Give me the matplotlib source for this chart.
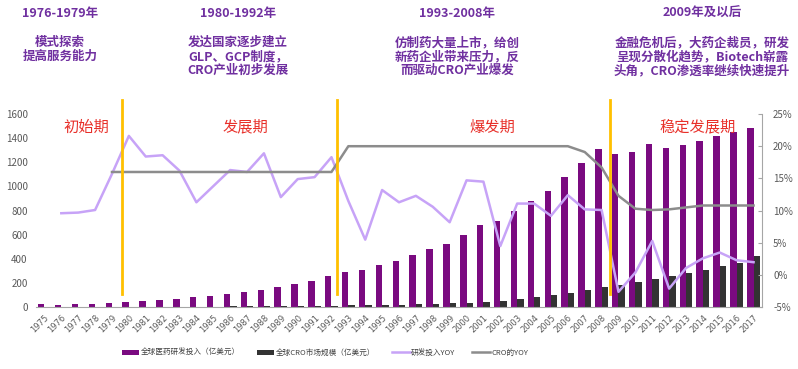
import matplotlib
matplotlib.use("Agg")
import matplotlib.pyplot as plt
import numpy as np
from matplotlib.patches import Patch
from matplotlib.lines import Line2D

plt.rcParams['font.family'] = ['Noto Sans CJK SC', 'DejaVu Sans']

years = [str(y) for y in range(1975, 2018)]
rd_invest = [25, 22, 27, 30, 38, 44, 52, 60, 72, 83, 91, 108, 127, 146, 166, 191, 221, 259,
             290, 309, 348, 387, 433, 483, 522, 602, 685, 713, 793, 884, 962, 1078, 1191, 1310,
             1271, 1285, 1351, 1318, 1343, 1376, 1420, 1453, 1484]
cro_market = [2, 2, 3, 3, 3, 4, 4, 5, 5, 6, 6, 7, 8, 8, 9, 10, 11, 13,
              15, 17, 20, 23, 26, 30, 34, 38, 45, 55, 68, 84, 99, 121, 143, 168,
              185, 207, 232, 259, 282, 312, 345, 370, 428]
rd_yoy = [np.nan, 9.6, 9.7, 10.1, 15.7, 21.6, 18.4, 18.6, 16.2, 11.3, 13.8, 16.3, 16.0, 18.9,
          12.1, 14.9, 15.2, 18.3, 11.5, 5.5, 13.2, 11.3, 12.3, 10.6, 8.2, 14.7, 14.5, 4.5,
          11.1, 11.1, 9.2, 12.4, 10.2, 10.1, -2.6, 0.4, 5.3, -2.1, 1.1, 2.6, 3.5, 2.3, 2.0]
cro_yoy = [np.nan, np.nan, np.nan, np.nan, 16.0, 16.0, 16.0, 16.0, 16.0, 16.0, 16.0, 16.0, 16.0,
           16.0, 16.0, 16.0, 16.0, 16.0, 20.0, 20.0, 20.0, 20.0, 20.0, 20.0, 20.0, 20.0, 20.0,
           20.0, 20.0, 20.0, 20.0, 20.0, 19.1, 16.7, 12.3, 10.3, 10.1, 10.2, 10.5, 10.8, 10.8,
           10.8, 10.8]

era_titles = ["1976-1979年", "1980-1992年", "1993-2008年", "2009年及以后"]
era_texts = ["模式探索\n提高服务能力",
             "发达国家逐步建立\nGLP、GCP制度，\nCRO产业初步发展",
             "仿制药大量上市，给创\n新药企业带来压力，反\n而驱动CRO产业爆发",
             "金融危机后，大药企裁员，研发\n呈现分散化趋势，Biotech崭露\n头角，CRO渗透率继续快速提升"]
phase_labels = ["初始期", "发展期", "爆发期", "稳定发展期"]
legend_labels = ["全球医药研发投入（亿美元）", "全球CRO市场规模（亿美元）", "研发投入YOY", "CRO的YOY"]

C_PURPLE = '#7a0a80'
C_BLACK = '#333333'
C_LINE = '#c7a3f7'
C_GRAY = '#8c8c8c'
C_YELLOW = '#ffc000'
C_TEXT = '#7030a0'
C_RED = '#e8302a'
C_TICK = '#595959'

W, H = 798, 369
fig = plt.figure(figsize=(W / 100, H / 100), dpi=100)
ax = fig.add_axes([36 / W, 1 - 307.3 / H, (762 - 36) / W, (307.3 - 114) / H])
ax2 = ax.twinx()

x = np.arange(len(years))
bw = 0.38
ax.bar(x - bw / 2, rd_invest, width=bw, color=C_PURPLE, zorder=2)
ax.bar(x + bw / 2, cro_market, width=bw, color=C_BLACK, zorder=2)
ax.set_xlim(-0.5, len(years) - 0.5)
ax.set_ylim(0, 1600)
ax.set_yticks(range(0, 1601, 200))
ax.tick_params(axis='y', length=0, labelsize=7, labelcolor=C_TICK, pad=6)
ax.set_xticks(x)
ax.set_xticklabels(years, rotation=45, ha='right', rotation_mode='anchor', fontsize=6,
                   color=C_TICK, family=['DejaVu Sans'])
ax.tick_params(axis='x', length=0, pad=4)
for s in ['top', 'left', 'right']:
    ax.spines[s].set_visible(False)
ax.spines['bottom'].set_color('#a6a6a6')

ax2.plot(x, rd_yoy, color=C_LINE, lw=1.8, zorder=3)
ax2.plot(x, cro_yoy, color=C_GRAY, lw=1.8, zorder=3)
ax2.set_ylim(-5, 25)
ax2.set_yticks(range(-5, 26, 5))
ax2.set_yticklabels([f"{v}%" for v in range(-5, 26, 5)])
ax2.tick_params(axis='y', direction='in', length=3, color='#a6a6a6', labelsize=7,
                labelcolor=C_TICK, pad=8)
for s in ['top', 'left', 'bottom']:
    ax2.spines[s].set_visible(False)
ax2.spines['right'].set_color('#a6a6a6')

# era divider lines (data x positions between categories)
for xv in [4.6, 17.3, 33.5]:
    ax2.plot([xv, xv], [-3.0, 27.2], color=C_YELLOW, lw=2, zorder=5, clip_on=False)

# phase labels
for xv, lab in zip([2.5, 11.9, 26.5, 38.7], phase_labels):
    ax2.text(xv, 23.0, lab, color=C_RED, fontsize=11, ha='center', va='center', zorder=6)

# top annotations
for xc, t, body in zip([60, 238, 457, 702], era_titles, era_texts):
    fig.text(xc / W, 1 - 13 / H, t, color=C_TEXT, fontsize=9, fontweight='bold',
             ha='center', va='center')
    fig.text(xc / W, 1 - 36 / H, body, color=C_TEXT, fontsize=9, fontweight='bold',
             ha='center', va='top', linespacing=1.1)

handles = [Patch(facecolor=C_PURPLE), Patch(facecolor=C_BLACK),
           Line2D([], [], color=C_LINE, lw=1.8), Line2D([], [], color=C_GRAY, lw=1.8)]
fig.legend(handles, legend_labels, loc='center', bbox_to_anchor=(325 / W, 1 - 353 / H),
           ncol=4, frameon=False, fontsize=5.5, handlelength=2.3, handleheight=0.6,
           handletextpad=0.2, columnspacing=2.2, labelcolor='#404040')

fig.savefig('out.png', dpi=100)
